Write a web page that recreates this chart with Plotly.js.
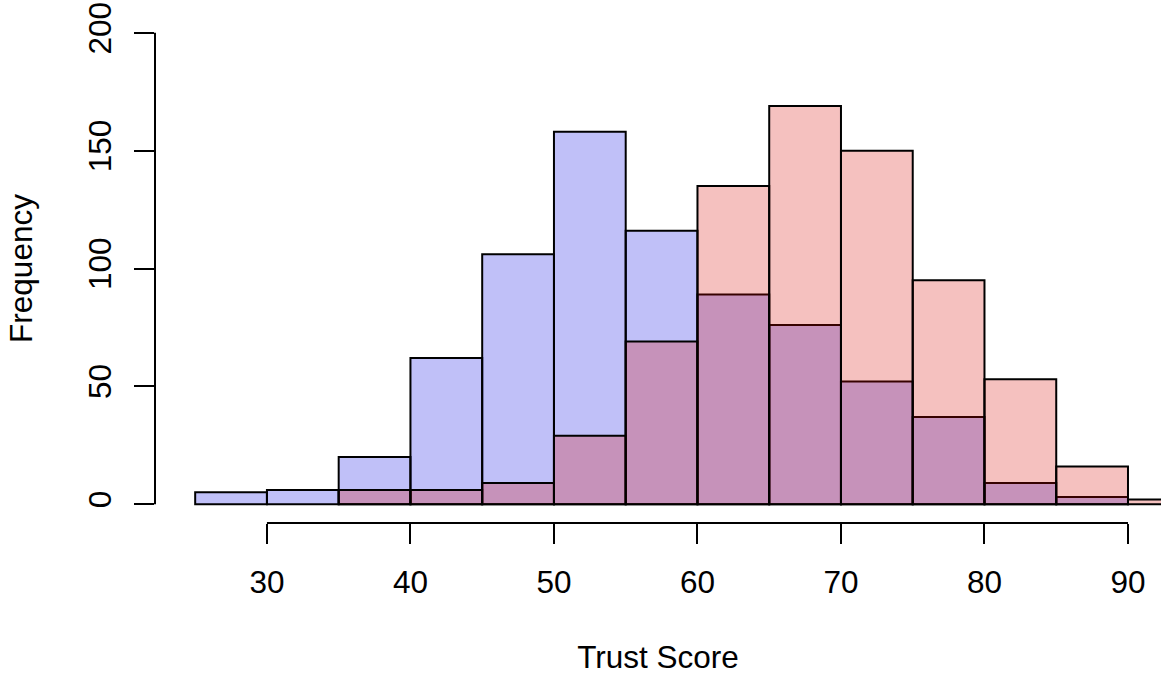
<!DOCTYPE html>
<html>
<head>
<meta charset="utf-8">
<script src="https://cdn.plot.ly/plotly-3.0.1.min.js"></script>
<style>html,body{margin:0;padding:0;background:#fff;overflow:hidden}#chart{width:1161px;height:675px}</style>
</head>
<body>
<div id="chart"></div>
<script>
// Histogram bin starts (bin width 5)
const binWidth = 5;
const blueBinStarts = [25, 30, 35, 40, 45, 50, 55, 60, 65, 70, 75, 80, 85];
const blueCounts    = [5, 6, 20, 62, 106, 158, 116, 89, 76, 52, 37, 9, 3];
const redBinStarts  = [35, 40, 45, 50, 55, 60, 65, 70, 75, 80, 85, 90];
const redCounts     = [6, 6, 9, 29, 69, 135, 169, 150, 95, 53, 16, 2];
const xTicks = [30, 40, 50, 60, 70, 80, 90];
const yTicks = [0, 50, 100, 150, 200];

const font = {family: 'Arial, "Liberation Sans", Helvetica, sans-serif', size: 31.5, color: '#000'};

function barTrace(starts, counts, fill) {
  return {
    type: 'bar',
    x: starts,
    y: counts,
    width: starts.map(() => binWidth),
    offset: 0,
    marker: {color: fill, line: {color: '#000', width: 2}},
    hoverinfo: 'x+y'
  };
}

const data = [
  barTrace(blueBinStarts, blueCounts, 'rgba(3,3,227,0.25)'),
  barTrace(redBinStarts, redCounts, 'rgba(215,7,0,0.25)')
];

const layout = {
  width: 1161, height: 675,
  margin: {l: 155, r: 0, t: 14, b: 152},
  paper_bgcolor: '#fff', plot_bgcolor: '#fff',
  barmode: 'overlay',
  showlegend: false,
  font: font,
  xaxis: {
    range: [22.2, 92.3],
    tickvals: xTicks, ticktext: xTicks.map(String),
    ticks: 'outside', ticklen: 20, tickwidth: 2, tickcolor: '#000',
    showline: false, showgrid: false, zeroline: false,
    tickfont: font,
    ticklabelstandoff: 11,
    title: {text: 'Trust Score', font: font, standoff: 50}
  },
  yaxis: {
    range: [-8, 208],
    tickvals: yTicks, ticktext: yTicks.map(String),
    tickangle: -90,
    ticks: 'outside', ticklen: 20, tickwidth: 2, tickcolor: '#000',
    showline: false, showgrid: false, zeroline: false,
    tickfont: font,
    ticklabelstandoff: 10,
    title: {text: 'Frequency', font: font, standoff: 40}
  },
  shapes: [
    {type: 'line', xref: 'x', yref: 'paper', x0: xTicks[0], x1: xTicks[xTicks.length-1], y0: 0, y1: 0,
     line: {color: '#000', width: 2}},
    {type: 'line', xref: 'paper', yref: 'y', x0: 0, x1: 0, y0: yTicks[0], y1: yTicks[yTicks.length-1],
     line: {color: '#000', width: 2}}
  ]
};

Plotly.newPlot('chart', data, layout, {displayModeBar: false, staticPlot: true});
</script>
</body>
</html>
